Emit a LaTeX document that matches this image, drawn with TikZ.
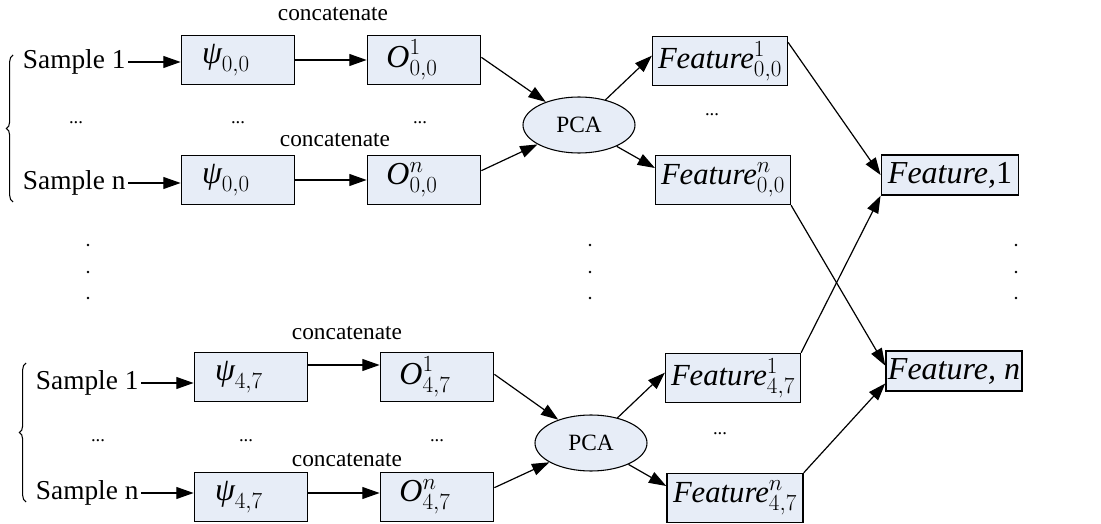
\documentclass[tikz,border=0pt]{standalone}
\usepackage{fontspec}
\setmainfont{Liberation Serif}
\usetikzlibrary{arrows.meta,shapes.geometric,decorations.pathreplacing,calc}
\definecolor{boxblue}{RGB}{231,237,247}
\tikzset{
  box/.style={draw, line width=1.1pt, fill=boxblue, minimum width=85pt, minimum height=36.75pt, inner sep=0pt, font=\fontsize{24}{28}\selectfont},
  lbox/.style={box, execute at end node={\hspace{18pt}}},
  featbox/.style={box, minimum width=101pt, font=\fontsize{23}{27}\selectfont},
  pcanode/.style={ellipse, draw, line width=0.8pt, fill=boxblue, minimum width=84pt, minimum height=42pt, inner sep=0pt, font=\fontsize{17.5}{20}\selectfont},
  smp/.style={anchor=west, inner sep=2pt, font=\fontsize{20.5}{24}\selectfont},
  cat/.style={font=\fontsize{17.5}{20}\selectfont},
  dotsnode/.style={font=\fontsize{14}{16}\selectfont},
  arr/.style={line width=0.9pt, -{Triangle[length=13pt,width=9pt]}},
  brc/.style={decorate, decoration={brace, amplitude=5pt}, line width=0.8pt}
}
\begin{document}
\begin{tikzpicture}[x=0.75pt,y=0.75pt,yscale=-1,xscale=1]
\useasboundingbox (0,0) rectangle (1101,524);
% Upper group: position (0,0)
% Text Node
\node [smp] (s01) at (20,62) {Sample 1};
\node [smp] (s0n) at (20,183) {Sample n};
\node [dotsnode] (d01) at (76,123) {...};
% Shape: Rectangle
\node [lbox] (p01) at (238,60) {$\textit{ψ}_{0,0}$};
\node [lbox] (p0n) at (238,180) {$\textit{ψ}_{0,0}$};
\node [dotsnode] (d02) at (238,123) {...};
% Shape: Rectangle
\node [lbox] (o01) at (424,60) {$\textit{O}^{1}_{0,0}$};
\node [lbox] (o0n) at (424,180) {$\textit{O}^{n}_{0,0}$};
\node [dotsnode] (d03) at (420,123) {...};
% Text Node
\node [cat] (c01) at (333,14) {concatenate};
\node [cat] (c02) at (335,140) {concatenate};
% Shape: Ellipse
\node [pcanode] (pca0) at (579,125) {PCA};
% Shape: Rectangle
\node [featbox] (f01) at (720,61) {$\textit{Feature}^{1}_{0,0}$};
\node [featbox] (f0n) at (723,180) {$\textit{Feature}^{n}_{0,0}$};
\node [dotsnode] (d04) at (712,115) {...};
% Lower group: position (4,7)
% Text Node
\node [smp] (s41) at (33,383) {Sample 1};
\node [smp] (s4n) at (33,493) {Sample n};
\node [dotsnode] (d41) at (98,441) {...};
% Shape: Rectangle
\node [lbox] (p41) at (251,377) {$\textit{ψ}_{4,7}$};
\node [lbox] (p4n) at (251,497) {$\textit{ψ}_{4,7}$};
\node [dotsnode] (d42) at (246,441) {...};
% Shape: Rectangle
\node [lbox] (o41) at (437,377) {$\textit{O}^{1}_{4,7}$};
\node [lbox] (o4n) at (437,497) {$\textit{O}^{n}_{4,7}$};
\node [dotsnode] (d43) at (437,441) {...};
% Text Node
\node [cat] (c41) at (347,333) {concatenate};
\node [cat] (c42) at (347,460) {concatenate};
% Shape: Ellipse
\node [pcanode] (pca4) at (591,443) {PCA};
% Shape: Rectangle
\node [featbox] (f41) at (733,378) {$\textit{Feature}^{1}_{4,7}$};
\node [featbox, minimum width=102pt] (f4n) at (735,498) {$\textit{Feature}^{n}_{4,7}$};
\node [dotsnode] (d44) at (720,434) {...};
% Output features
\node [box, minimum width=103pt, minimum height=30pt] (fa) at (950,175) {\textit{Feature,}1};
\node [box, minimum width=102pt, minimum height=30pt] (fb) at (954,371) {\textit{Feature, n}};
% Braces
\draw [brc] (13,202) -- (13,55);
\draw [brc] (26,502) -- (26,363);
% Vertical dots
\foreach \xx in {88,590,1016} {
  \foreach \yy in {245,272,298} {
    \fill (\xx,\yy) circle (1.3);
  }
}
%Straight Lines
\draw [arr] (s01.east) -- (s01.east -| p01.west);
\draw [arr] (s0n.east) -- (s0n.east -| p0n.west);
\draw [arr] (p01) -- (o01);
\draw [arr] (p0n) -- (o0n);
\draw [arr] ([yshift=-2pt]o01.east) -- (pca0);
\draw [arr] ([yshift=-7pt]o0n.east) -- (pca0);
\draw [arr] (pca0) -- ([yshift=-4pt]f01.west);
\draw [arr] (pca0) -- ([yshift=-9pt]f0n.west);
%Straight Lines
\draw [arr] (s41.east) -- (s41.east -| p41.west);
\draw [arr] (s4n.east) -- (s4n.east -| p4n.west);
\draw [arr] ([yshift=-9pt]p41.east) -- ([yshift=-9pt]o41.west);
\draw [arr] ([yshift=-3pt]p4n.east) -- ([yshift=-3pt]o4n.west);
\draw [arr] ([yshift=-2pt]o41.east) -- (pca4);
\draw [arr] ([yshift=-7pt]o4n.east) -- (pca4);
\draw [arr] (pca4) -- ([yshift=-4pt]f41.west);
\draw [arr] (pca4) -- ([yshift=-9pt]f4n.west);
%Straight Lines
\draw [arr] ([yshift=-14pt]f01.east) -- (fa.west);
\draw [arr] (f0n.south east) -- ([yshift=-4pt]fb.west);
\draw [arr] (f41.north east) -- (fa.south west);
\draw [arr] (f4n.north east) -- ($(fb.west)!0.6!(fb.south west)$);
\end{tikzpicture}
\end{document}
